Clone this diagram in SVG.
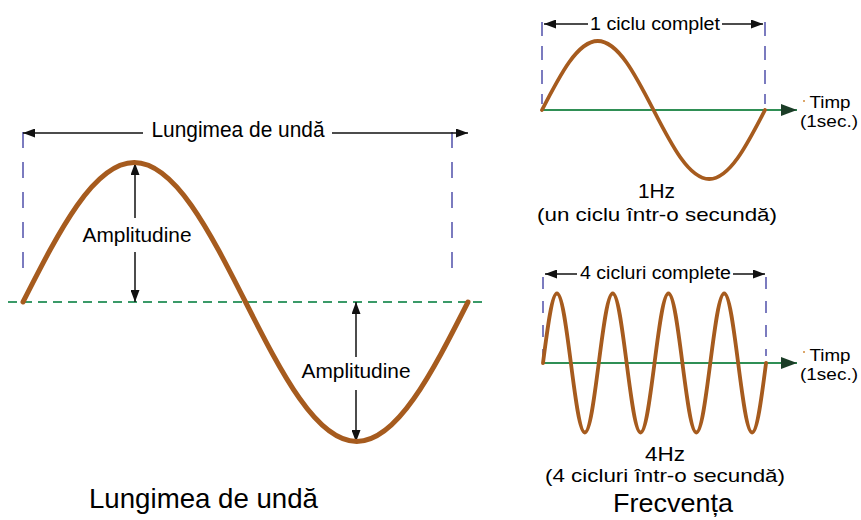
<svg xmlns="http://www.w3.org/2000/svg" width="861" height="520" viewBox="0 0 861 520">
<defs>
<style>
.wave{fill:none;stroke:#a65b1e;stroke-linecap:round;stroke-linejoin:round}
.dim{stroke:#111;stroke-width:1.5;fill:none;marker-end:url(#ah)}
.guide{stroke:#5b5bb0;stroke-width:1.6;fill:none}
.axis{stroke:#2f8f55;stroke-width:2.2;marker-end:url(#axh)}
.base{stroke:#3a9a68;stroke-width:1.8;stroke-dasharray:9 6}
text{font-family:"Liberation Sans",Arial,sans-serif;fill:#000}
.mid{text-anchor:middle}
</style>
<marker id="ah" markerUnits="userSpaceOnUse" markerWidth="12" markerHeight="9" refX="12" refY="4.5" orient="auto"><path d="M0,0 L12,4.5 L0,9 z" fill="#111"/></marker>
<marker id="axh" markerUnits="userSpaceOnUse" markerWidth="16" markerHeight="12" refX="16" refY="6" orient="auto"><path d="M0,0 L16,6 L0,12 z" fill="#1b3d27"/></marker>
</defs>

<g id="connectors">
  <line class="base" x1="8" y1="302" x2="484" y2="302"/>
  <line class="guide" x1="23" y1="132" x2="23" y2="282" stroke-dasharray="16 14"/>
  <line class="guide" x1="452" y1="132" x2="452" y2="282" stroke-dasharray="16 14"/>
  <line class="dim" x1="143" y1="133" x2="23" y2="133"/>
  <line class="dim" x1="332" y1="133" x2="468" y2="133"/>
  <line class="dim" x1="135" y1="218" x2="135" y2="163"/>
  <line class="dim" x1="135" y1="252" x2="135" y2="302"/>
  <line class="dim" x1="356" y1="357" x2="356" y2="302"/>
  <line class="dim" x1="356" y1="390" x2="356" y2="442"/>

  <line class="guide" x1="542" y1="22" x2="542" y2="104" stroke-dasharray="14 10"/>
  <line class="guide" x1="765" y1="22" x2="765" y2="104" stroke-dasharray="14 10"/>
  <line class="axis" x1="542" y1="110" x2="797" y2="110"/>
  <line class="dim" x1="588" y1="24" x2="544" y2="24"/>
  <line class="dim" x1="722" y1="24" x2="763" y2="24"/>

  <line class="guide" x1="543" y1="277" x2="543" y2="356" stroke-dasharray="12 12"/>
  <line class="guide" x1="766" y1="277" x2="766" y2="356" stroke-dasharray="12 12"/>
  <line class="axis" x1="543" y1="363" x2="797" y2="363"/>
  <line class="dim" x1="577" y1="274" x2="545" y2="274"/>
  <line class="dim" x1="733" y1="274" x2="765" y2="274"/>
</g>

<g id="wave-lungime">
  <path class="wave" stroke-width="5" d="M23,302 C59.28,230.53 93.99,162.5 134.25,162.5 C174.51,162.5 209.22,230.53 245.5,302 C281.78,373.47 316.49,441.5 356.75,441.5 C397.01,441.5 431.72,373.47 468,302"/>
</g>
<g id="wave-1hz">
  <path class="wave" stroke-width="3.8" d="M542,110 C560.18,74.65 577.57,41 597.75,41 C617.930,41 635.32,74.65 653.5,110 C671.68,145.35 689.07,179 709.25,179 C729.43,179 746.82,145.35 765,110"/>
</g>
<g id="wave-4hz">
  <path class="wave" stroke-width="3.8" d="M543,363 c4.545,-35.6 8.894,-69.5 13.94,-69.5 c5.044,0 9.392,33.9 13.94,69.5 c4.545,35.6 8.894,69.5 13.94,69.5 c5.044,0 9.392,-33.9 13.94,-69.5 c4.545,-35.6 8.894,-69.5 13.94,-69.5 c5.044,0 9.392,33.9 13.94,69.5 c4.545,35.6 8.894,69.5 13.94,69.5 c5.044,0 9.392,-33.9 13.94,-69.5 c4.545,-35.6 8.894,-69.5 13.94,-69.5 c5.044,0 9.392,33.9 13.94,69.5 c4.545,35.6 8.894,69.5 13.94,69.5 c5.044,0 9.392,-33.9 13.94,-69.5 c4.545,-35.6 8.894,-69.5 13.94,-69.5 c5.044,0 9.392,33.9 13.94,69.5 c4.545,35.6 8.894,69.5 13.94,69.5 c5.044,0 9.392,-33.9 13.94,-69.5"/>
</g>

<g id="labels-lungime">
  <text class="mid" x="238" y="137" font-size="22" textLength="173" lengthAdjust="spacingAndGlyphs">Lungimea de undă</text>
  <text class="mid" x="137" y="242" font-size="20" textLength="109" lengthAdjust="spacingAndGlyphs">Amplitudine</text>
  <text class="mid" x="356" y="378" font-size="20" textLength="109" lengthAdjust="spacingAndGlyphs">Amplitudine</text>
  <text class="mid" x="203.5" y="508" font-size="28" textLength="229" lengthAdjust="spacingAndGlyphs">Lungimea de undă</text>
</g>

<g id="labels-1hz">
  <text class="mid" x="655" y="30" font-size="18" textLength="130" lengthAdjust="spacingAndGlyphs">1 ciclu complet</text>
  <circle cx="804" cy="101" r="1" fill="#d08a3a"/>
  <text class="mid" x="830" y="108" font-size="17" textLength="41" lengthAdjust="spacingAndGlyphs">Timp</text>
  <text class="mid" x="829" y="127" font-size="17" textLength="58" lengthAdjust="spacingAndGlyphs">(1sec.)</text>
  <text class="mid" x="656.5" y="198" font-size="20" textLength="37" lengthAdjust="spacingAndGlyphs">1Hz</text>
  <text class="mid" x="657" y="221" font-size="19" textLength="240" lengthAdjust="spacingAndGlyphs">(un ciclu într-o secundă)</text>
</g>

<g id="labels-4hz">
  <text class="mid" x="655.5" y="279" font-size="18" textLength="151" lengthAdjust="spacingAndGlyphs">4 cicluri complete</text>
  <circle cx="804" cy="352" r="1" fill="#d08a3a"/>
  <text class="mid" x="830" y="361" font-size="17" textLength="41" lengthAdjust="spacingAndGlyphs">Timp</text>
  <text class="mid" x="829" y="380" font-size="17" textLength="58" lengthAdjust="spacingAndGlyphs">(1sec.)</text>
  <text class="mid" x="665" y="461" font-size="20" textLength="40" lengthAdjust="spacingAndGlyphs">4Hz</text>
  <text class="mid" x="665" y="482" font-size="19" textLength="240" lengthAdjust="spacingAndGlyphs">(4 cicluri într-o secundă)</text>
  <text class="mid" x="673" y="512" font-size="26" textLength="120" lengthAdjust="spacingAndGlyphs">Frecvența</text>
</g>
</svg>
